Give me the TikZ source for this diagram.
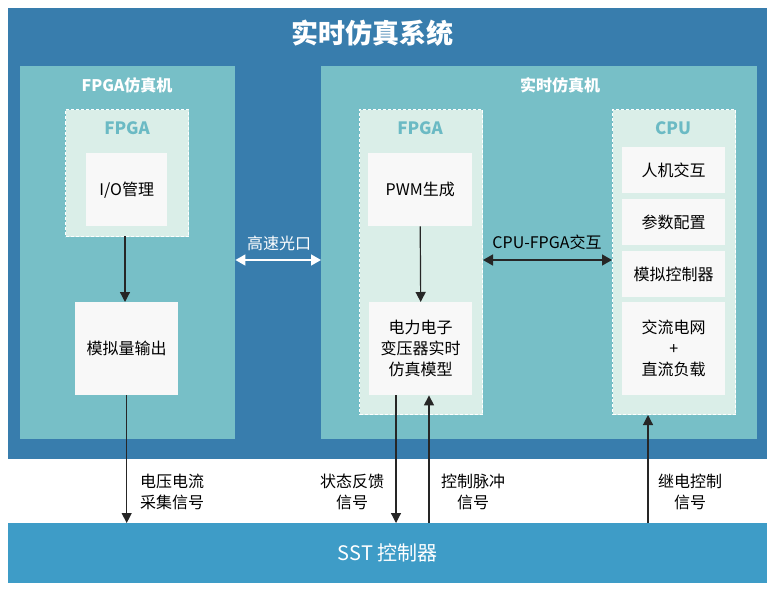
\documentclass[tikz,border=0pt]{standalone}
\usepackage{fontspec}
\setmainfont{Noto Sans CJK SC}
\usetikzlibrary{positioning,arrows.meta}
\definecolor{darkblue}{HTML}{387DAD}
\definecolor{sstblue}{HTML}{3E9CC7}
\definecolor{teal}{HTML}{77BFC7}
\definecolor{pale}{HTML}{DAEEE8}
\definecolor{boxw}{HTML}{F8F8F8}
\definecolor{fpgatxt}{HTML}{6BBAC4}
\tikzset{
  panel/.style = {fill = teal, anchor = north west, inner sep = 0pt},
  chip/.style = {fill = pale, draw = white, densely dashed, line width = 1pt, anchor = north west, inner sep = 0pt},
  block/.style = {fill = boxw, anchor = north west, inner sep = 0pt, align = center, font = \fontsize{16}{21}\selectfont},
  head/.style = {text = white, font = \fontsize{16}{18}\selectfont\bfseries},
  chiphead/.style = {text = fpgatxt, font = \fontsize{17}{18}\selectfont\bfseries},
  sig/.style = {align = center, font = \fontsize{16}{21}\selectfont},
  link/.style = {-{Triangle[length = 10pt, width = 10pt]}, line width = 1.2pt, black!85},
  both/.style = {{Triangle[length = 10pt, width = 11pt]}-{Triangle[length = 10pt, width = 11pt]}, line width = 1.5pt},
}
\begin{document}
\begin{tikzpicture}[x = 1pt, y = -1pt]
\useasboundingbox (0,0) rectangle (775,591);
\fill[white] (0,0) rectangle (775,591);

% Sistema y controlador
\node[fill = darkblue, anchor = north west, minimum width = 759, minimum height = 451, inner sep = 0pt] (sys) at (8,8) {};
\node[text = white, font = \fontsize{27}{29}\selectfont\bfseries] (systitle) at (372,33) {实时仿真系统};
\node[fill = sstblue, anchor = north west, minimum width = 759, minimum height = 60, inner sep = 0pt] (sst) at (8,523) {};
\node[text = white, font = \fontsize{20}{22}\selectfont] at (sst.center) {SST 控制器};

% FPGA仿真机
\node[panel, minimum width = 215, minimum height = 373] (left) at (20,66) {};
\node[head] at (127,85) {FPGA仿真机};
\node[chip, minimum width = 123, minimum height = 127] (lchip) at (65,109) {};
\node[chiphead] at (127,128) {FPGA};
\node[block, minimum width = 81, minimum height = 73] (io) at (86,153) {I/O管理};
\node[block, minimum width = 103, minimum height = 93] (ao) at (75,302) {模拟量输出};
\draw[link] (125,236) -- (ao.north -| 125,0);

% 实时仿真机
\node[panel, minimum width = 436, minimum height = 373] (right) at (321,66) {};
\node[head] at (560,85) {实时仿真机};
\node[chip, minimum width = 123, minimum height = 305] (rchip) at (359,109) {};
\node[chiphead] at (420,128) {FPGA};
\node[block, minimum width = 104, minimum height = 73] (pwm) at (368,153) {PWM生成};
\node[block, minimum width = 103, minimum height = 93] (model) at (369,302) {电力电子\\变压器实时\\仿真模型};
\draw[link] (pwm.south) -- (model.north);

\node[chip, minimum width = 123, minimum height = 305] (cpu) at (612,109) {};
\node[chiphead] at (673,128) {CPU};
\node[block, minimum width = 103, minimum height = 46] (hmi) at (622,147) {人机交互};
\node[block, minimum width = 103, minimum height = 46] (para) at (622,199) {参数配置};
\node[block, minimum width = 103, minimum height = 46] (ctrl) at (622,251) {模拟控制器};
\node[block, minimum width = 103, minimum height = 93] (grid) at (622,302) {交流电网\\+\\直流负载};

% Enlaces
\draw[both, white] (left.east |- 0,260) -- (right.west |- 0,260);
\node[text = white, font = \fontsize{16}{18}\selectfont] at (279,243) {高速光口};
\draw[both, black!85] (rchip.east |- 0,260) -- (cpu.west |- 0,260);
\node[font = \fontsize{16}{18}\selectfont] at (547,242) {CPU-FPGA交互};

% Señales
\draw[link] (ao.south) -- (sst.north -| ao.south);
\node[sig] at (172,492) {电压电流\\采集信号};
\draw[link] (model.south -| 396,0) -- (sst.north -| 396,0);
\node[sig] at (352,492) {状态反馈\\信号};
\draw[link] (sst.north -| 429,0) -- (model.south -| 429,0);
\node[sig] at (473,492) {控制脉冲\\信号};
\draw[link] (sst.north -| 648,0) -- (cpu.south -| 648,0);
\node[sig] at (690,492) {继电控制\\信号};
\end{tikzpicture}
\end{document}
